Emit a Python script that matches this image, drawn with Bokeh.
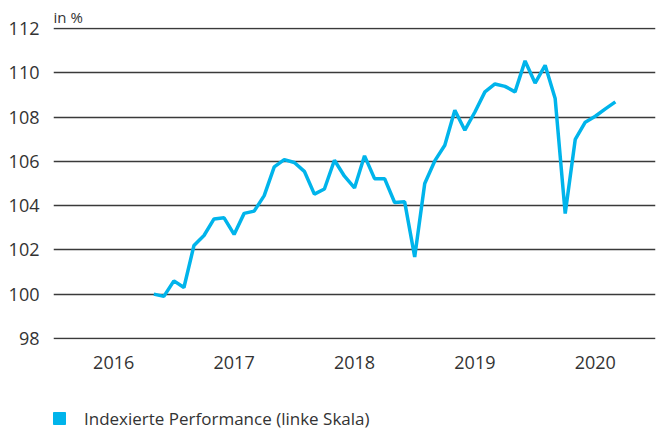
from bokeh.plotting import figure
from bokeh.layouts import column
from bokeh.models import (FixedTicker, Range1d, Legend, LegendItem)
from bokeh.embed import file_html
from bokeh.resources import INLINE

# ---- data -------------------------------------------------------------
months = [
    "2016-11", "2016-12",
    "2017-01", "2017-02", "2017-03", "2017-04", "2017-05", "2017-06",
    "2017-07", "2017-08", "2017-09", "2017-10", "2017-11", "2017-12",
    "2018-01", "2018-02", "2018-03", "2018-04", "2018-05", "2018-06",
    "2018-07", "2018-08", "2018-09", "2018-10", "2018-11", "2018-12",
    "2019-01", "2019-02", "2019-03", "2019-04", "2019-05", "2019-06",
    "2019-07", "2019-08", "2019-09", "2019-10", "2019-11", "2019-12",
    "2020-01", "2020-02", "2020-03", "2020-04", "2020-05", "2020-06",
    "2020-07", "2020-08", "2020-09",
]
performance = [
    100.0, 99.9,
    100.6, 100.3, 102.2, 102.65, 103.4, 103.45,
    102.7, 103.65, 103.75, 104.45, 105.75, 106.08,
    105.95, 105.55, 104.52, 104.75, 106.05, 105.33,
    104.8, 106.25, 105.22, 105.22, 104.14, 104.17,
    101.68, 105.0, 106.02, 106.73, 108.31, 107.41,
    108.23, 109.14, 109.5, 109.39, 109.14, 110.54,
    109.54, 110.34, 108.84, 103.64, 106.99, 107.77,
    108.04, 108.37, 108.69,
]
y_ticks = [98, 100, 102, 104, 106, 108, 110, 112]
year_labels = ["2016", "2017", "2018", "2019", "2020"]
series_name = "Indexierte Performance (linke Skala)"
unit_label = "in %"

# ---- conversion -------------------------------------------------------
x_vals = [int(m[:4]) + (int(m[5:]) - 1) / 12 for m in months]
year_pos = [int(y) + 0.5 for y in year_labels]

FONT = "Open Sans"
TEXT = "#333333"
LINE = "#00b4eb"

p = figure(width=658, height=400, output_backend="svg",
           toolbar_location=None,
           x_range=Range1d(2016, 2021), y_range=Range1d(97.95, 112.05),
           min_border_left=53, min_border_right=3, min_border_top=27,
           min_border_bottom=61)
p.outline_line_color = None
p.background_fill_color = "white"
p.border_fill_color = "white"

# unit label as title (above the frame, left aligned)
p.title.text = unit_label
p.title.align = "left"
p.title.text_font = FONT
p.title.text_font_size = "15px"
p.title.text_font_style = "normal"
p.title.text_color = TEXT
p.title.standoff = 1

# y axis
p.yaxis.ticker = FixedTicker(ticks=y_ticks)
p.yaxis.axis_line_color = None
p.yaxis.major_tick_line_color = None
p.yaxis.minor_tick_line_color = None
p.yaxis.major_label_standoff = 8
p.yaxis.major_label_text_font = FONT
p.yaxis.major_label_text_font_size = "18px"
p.yaxis.major_label_text_color = TEXT

# x axis
p.xaxis.ticker = FixedTicker(ticks=year_pos)
p.xaxis.major_label_overrides = {yp: lab for yp, lab in zip(year_pos, year_labels)}
p.xaxis.axis_line_color = None
p.xaxis.major_tick_line_color = None
p.xaxis.minor_tick_line_color = None
p.xaxis.major_tick_out = 0
p.xaxis.major_label_standoff = 16
p.xaxis.major_label_text_font = FONT
p.xaxis.major_label_text_font_size = "18px"
p.xaxis.major_label_text_color = TEXT

# grid
p.xgrid.grid_line_color = None
p.ygrid.ticker = FixedTicker(ticks=y_ticks)
p.ygrid.grid_line_color = "#3a3a3a"
p.ygrid.grid_line_width = 1.3

# line
p.line(x_vals, performance, line_color=LINE, line_width=3.5)

# ---- legend strip (separate small figure below) -----------------------
lg = figure(width=658, height=30, output_backend="svg", toolbar_location=None,
            x_range=Range1d(0, 1), y_range=Range1d(0, 1),
            min_border_left=0, min_border_right=0, min_border_top=0,
            min_border_bottom=0)
lg.axis.visible = False
lg.grid.grid_line_color = None
lg.outline_line_color = None
lg.background_fill_color = "white"
lg.border_fill_color = "white"
# swatch proxy placed outside the visible range; only its legend glyph shows
swatch = lg.scatter(x=[-5], y=[-5], marker="square", size=12,
                    fill_color=LINE, line_color=LINE)
legend = Legend(items=[LegendItem(label=series_name, renderers=[swatch])],
                location=(-9, -3), orientation="horizontal",
                padding=0, margin=0, spacing=0,
                glyph_width=30, glyph_height=30, label_standoff=10,
                label_text_font=FONT, label_text_font_size="17px",
                label_text_color=TEXT, border_line_color=None,
                background_fill_alpha=0)
lg.add_layout(legend, "center")

layout = column(p, lg, spacing=0)

open("out.html", "w").write(file_html(layout, INLINE))
